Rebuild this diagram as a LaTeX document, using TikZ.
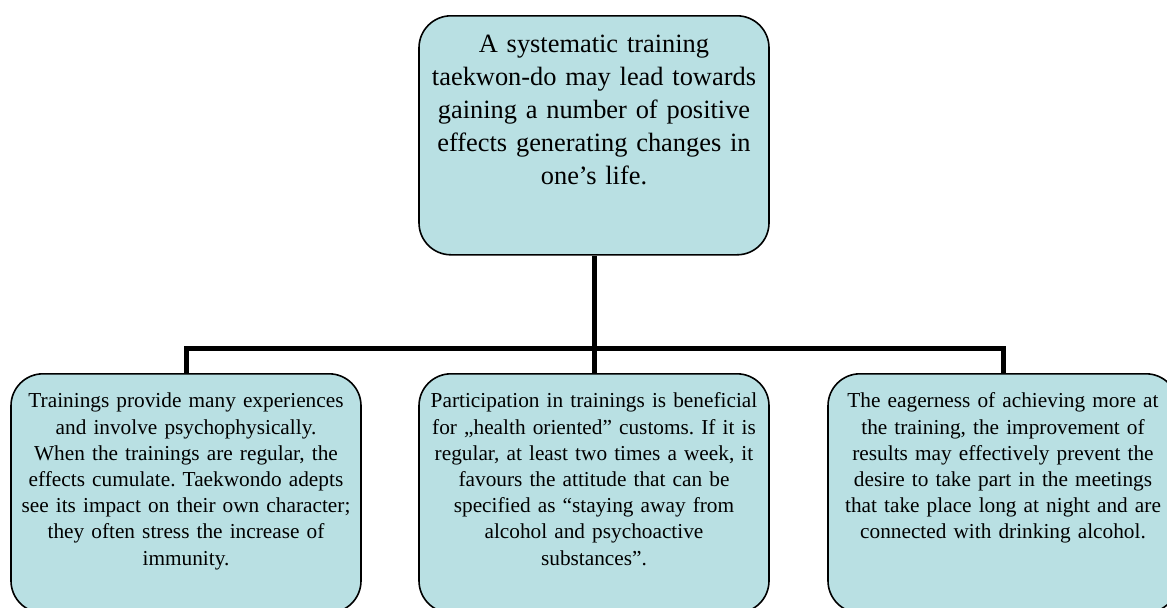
\documentclass[tikz,border=0pt]{standalone}
\usepackage{fontspec}
\setmainfont{Liberation Serif}
\usetikzlibrary{calc}
\frenchspacing

\definecolor{boxfill}{HTML}{B9E0E3}

\tikzset{
  effect/.style={draw=black, line width=0.8pt, fill=boxfill, rounded corners=16pt,
    anchor=north, align=center, text width=165pt, minimum width=175pt,
    inner xsep=5pt, inner ysep=8pt},
  mainbox/.style={effect, text height=10.5pt, text depth=93pt,
    font=\fontsize{13.2pt}{16.4pt}\selectfont},
  subbox/.style={effect, text height=9pt, text depth=94.5pt,
    font=\fontsize{10.65pt}{13.1pt}\selectfont},
  link/.style={line width=2.5pt}
}

\begin{document}
\begin{tikzpicture}[x=0.5pt, y=-0.5pt]

  \useasboundingbox (0,0) rectangle (1167,607);
  \clip (0,0) rectangle (1167,607);

  \node[mainbox] (main) at (594, 15)
    {A systematic training\\ taekwon-do may lead towards\\ gaining a number of positive\\
     effects generating changes in\\ one’s life.};

  \node[subbox] (left) at (186, 373)
    {Trainings provide many experiences\\ and involve psychophysically.\\
     When the trainings are regular, the\\ effects cumulate. Taekwondo adepts\\
     see its impact on their own character;\\ they often stress the increase of\\ immunity.};

  \node[subbox] (middle) at (594, 373)
    {Participation in trainings is beneficial\\ for „health oriented” customs. If it is\\
     regular, at least two times a week, it\\ favours the attitude that can be\\
     specified as “staying away from\\ alcohol and psychoactive\\ substances”.};

  \node[subbox] (right) at (1003, 373)
    {The eagerness of achieving more at\\ the training, the improvement of\\
     results may effectively prevent the\\ desire to take part in the meetings\\
     that take place long at night and are\\ connected with drinking alcohol.};

  \coordinate (bus) at (594, 348);
  \draw[link] (main.south) -- (bus);
  \draw[link] (left.north) |- (bus) -| (right.north);
  \draw[link] (middle.north) -- (bus);
\end{tikzpicture}
\end{document}
